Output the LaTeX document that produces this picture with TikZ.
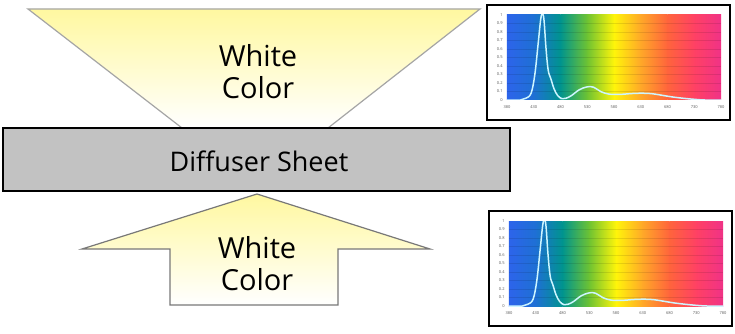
\documentclass[tikz,border=0pt]{standalone}
\usepackage{fontspec}
\setmainfont{Open Sans}
\usetikzlibrary{positioning}
\definecolor{lightyel}{RGB}{255,248,160}
\definecolor{sheetgray}{RGB}{194,194,194}
\definecolor{funnelgray}{RGB}{165,165,165}
\definecolor{arrowgray}{RGB}{120,120,120}
\definecolor{curvecol}{RGB}{205,245,255}
\definecolor{spA}{RGB}{45,100,235}  % 380
\definecolor{spB}{RGB}{30,112,212}  % 430
\definecolor{spC}{RGB}{0,148,142}   % 480
\definecolor{spD}{RGB}{110,195,50}  % 530
\definecolor{spE}{RGB}{255,245,10}  % 580
\definecolor{spF}{RGB}{255,168,40}  % 630
\definecolor{spG}{RGB}{255,100,60}  % 680
\definecolor{spH}{RGB}{255,65,100}  % 730
\definecolor{spI}{RGB}{240,50,135}  % 780

% #1 name prefix, (#2,#3) top left corner of the frame
\newcommand{\spectrum}[3]{%
  \begin{scope}[shift={(#2,#3)}]
    \draw[line width=1.6pt] (0,0) rectangle (243,115);
    \begin{scope}[shift={(20,95)},x=0.535pt,y=85pt,shift={(-380,0)}]
      \foreach \la/\lb/\ca/\cb in {380/430/spA/spB,430/480/spB/spC,480/530/spC/spD,
          530/580/spD/spE,580/630/spE/spF,630/680/spF/spG,680/730/spG/spH,730/780/spH/spI}
        \shade[left color=\ca,right color=\cb] (\la-0.4,0) rectangle (\lb+0.4,1);
      \foreach \g in {1,...,9}
        \draw[black,opacity=.1,line width=.4pt] (380,\g/10) -- (780,\g/10);
      \foreach \g [count=\k] in {0,0.1,0.2,0.3,0.4,0.5,0.6,0.7,0.8,0.9,1}
        \node[ticklab,anchor=east] (#1y\k) at (373,\g) {\g};
      \foreach \l [count=\k] in {380,430,...,780}
        \node[ticklab,below=5pt] (#1x\k) at (\l,0) {\l};
      \begin{scope}
        \clip (380,0) rectangle (780,1);
        \draw[curvecol,line width=1.5pt,line join=round] plot[smooth,tension=.6] coordinates {
          (380,0) (405,0) (415,0.02) (425,0.08) (432,0.3) (438,0.65) (443,0.95) (446,1.01)
          (449,0.95) (453,0.6) (457,0.35) (462,0.25) (468,0.13) (475,0.05) (483,0.015)
          (490,0.02) (500,0.05) (515,0.12) (530,0.155) (542,0.15) (555,0.1) (570,0.07)
          (590,0.065) (610,0.075) (630,0.08) (650,0.075) (670,0.055) (690,0.035)
          (710,0.02) (730,0.008) (750,0) (780,0)};
      \end{scope}
    \end{scope}
  \end{scope}}

\begin{document}
\begin{tikzpicture}[x=1pt,y=-1pt,
    funnel/.style={draw=funnelgray,line width=1.2pt,top color=lightyel,bottom color=white},
    uparrow/.style={draw=arrowgray,line width=1.2pt,top color=lightyel,bottom color=white},
    bigtext/.style={align=center,font=\fontsize{29}{32}\selectfont},
    ticklab/.style={inner sep=0.5pt,text=gray!70!black,font=\fontsize{4}{4}\selectfont}]
  \useasboundingbox (0,0) rectangle (735,334);
  \fill[white] (0,0) rectangle (735,334);

  % light coming out of the sheet
  \draw[funnel] (28,9) -- (480,9) -- (328,128) -- (182,128) -- cycle;
  \node[bigtext] (topcolor) at (258,72) {White\\Color};

  % the sheet
  \node[draw,line width=1.4pt,fill=sheetgray,minimum width=507pt,minimum height=63pt,
        inner sep=0pt,font=\fontsize{27}{31}\selectfont] (sheet) at (256.5,159.5) {};
  \node[font=\fontsize{27}{31}\selectfont] (sheettext) at (259,161) {Diffuser Sheet};

  % light going in
  \draw[uparrow] (257,194) -- (430,249) -- (338,249) -- (338,305) -- (170,305)
                 -- (170,249) -- (82,249) -- cycle;
  \node[bigtext] (botcolor) at (257,264) {White\\Color};

  % spectra
  \spectrum{t}{487}{5}
  \spectrum{b}{489}{211}
\end{tikzpicture}
\end{document}
